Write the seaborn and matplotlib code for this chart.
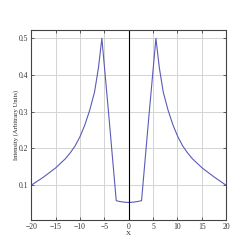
import matplotlib
matplotlib.use("Agg")
import matplotlib.pyplot as plt
import seaborn as sns
import pandas as pd

# Intensity profile
x_vals = [-20, -17.5, -15, -13, -12, -11, -10, -9, -8, -7, -6.2, -5.5,
          -4.0, -2.55, -2.0, -1.0, 0, 1.0, 2.0, 2.65,
          4.1, 5.6,
          6.3, 7.1, 8.1, 9.1, 10.1, 11.1, 12.1, 13.1, 15.1, 17.6, 20]
intensity = [0.100, 0.122, 0.147, 0.172, 0.188, 0.207, 0.232, 0.264, 0.304, 0.354, 0.420, 0.500,
             0.279, 0.058, 0.056, 0.054, 0.053, 0.054, 0.056, 0.058,
             0.279, 0.500,
             0.420, 0.354, 0.304, 0.264, 0.232, 0.207, 0.188, 0.172, 0.147, 0.122, 0.100]

df = pd.DataFrame({"x": x_vals, "Intensity": intensity})

sns.set_style("whitegrid")
plt.rcParams['font.family'] = ['Liberation Serif', 'DejaVu Serif']
plt.rcParams['font.size'] = 5.5

fig = plt.figure(figsize=(2.52, 2.52), dpi=100)
ax = fig.add_axes([0.124, 0.128, 0.773, 0.752])

sns.lineplot(data=df, x="x", y="Intensity", ax=ax, color="#5b5bb8", linewidth=0.8)
ax.axvline(0, color="black", linewidth=0.8)

ax.set_xlim(-20, 20)
ax.set_ylim(0.006, 0.522)
ax.set_xticks([-20, -15, -10, -5, 0, 5, 10, 15, 20])
ax.set_yticks([0.1, 0.2, 0.3, 0.4, 0.5])
ax.set_xlabel("X", fontsize=5, labelpad=0)
ax.set_ylabel("Intensity (Arbitrary Units)", fontsize=4.8, labelpad=0)

ax.grid(True, color="#d3d3d3", linewidth=0.7)
for s in ax.spines.values():
    s.set_color("#444444")
    s.set_linewidth(0.8)
ax.tick_params(direction="in", length=2.5, width=0.6, labelsize=5.5, pad=2,
               top=True, right=True, bottom=True, left=True, colors="#444444",
               labelcolor="#333333")

fig.savefig("out.png", dpi=100)
